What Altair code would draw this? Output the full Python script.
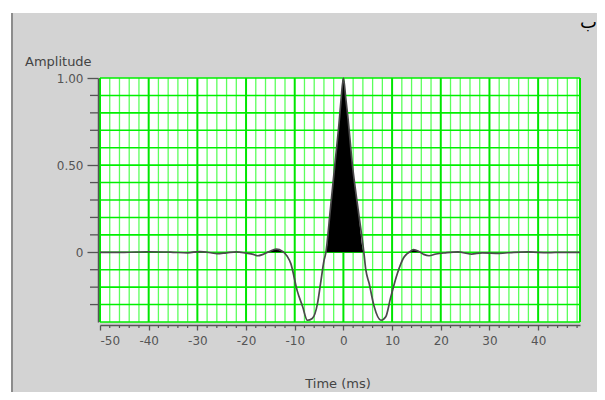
import altair as alt
import pandas as pd

# ---- data ----
time_ms = [-50, -45, -40, -35, -32, -29.5, -27, -26, -24, -22, -20, -18.5, -17.6, -16.5,
           -15.2, -13.8, -12.5, -11.5, -10.8, -9.5, -8.4, -7.4, -6.4, -5.3, -4.7, -4.0,
           -3.6, -2.7, -1.8, -0.9, -0.5, 0, 0.5, 0.9, 1.85, 3.0, 4.2, 4.6, 5.3, 6.3, 7.7,
           8.7, 9.7, 11.1, 12.4, 13.5, 14.4, 15.5, 16.5, 17.6, 19, 21, 23.5, 26.3, 28.5,
           32, 35, 38, 42, 45, 48.6]
amplitude = [0, 0, 0.003, 0, -0.003, 0.004, -0.004, -0.008, -0.003, 0.002, -0.005, -0.012,
             -0.02, -0.012, 0.005, 0.018, 0.005, -0.025, -0.065, -0.22, -0.31, -0.39, -0.38,
             -0.29, -0.18, -0.05, 0, 0.24, 0.49, 0.74, 0.87, 1.0, 0.88, 0.78, 0.5, 0.25, 0,
             -0.1, -0.18, -0.31, -0.39, -0.37, -0.26, -0.12, -0.03, 0, 0.015, 0.005, -0.012,
             -0.02, -0.01, -0.003, 0.002, -0.01, -0.003, -0.006, 0, 0.002, -0.002, 0, 0]

x_major_ticks = [-50, -40, -30, -20, -10, 0, 10, 20, 30, 40]
x_minor_ticks = [v for v in range(-48, 49, 2) if v % 10 != 0]
y_major_ticks = [0, 0.5, 1.0]
y_minor_ticks = [-0.3, -0.2, -0.1, 0.1, 0.2, 0.3, 0.4, 0.6, 0.7, 0.8, 0.9]
y_grid = [-0.4, -0.3, -0.2, -0.1, 0.0, 0.1, 0.2, 0.3, 0.4, 0.5, 0.6, 0.7, 0.8, 0.9, 1.0]
x_edge = [48.6]

x_title = "Time (ms)"
y_title = "Amplitude"
corner_mark = "ب"

W, H = 480, 244
X_DOMAIN = [-50, 48.6]
Y_DOMAIN = [-0.4, 1.0]
FONT = "DejaVu Sans"

xs = alt.Scale(domain=X_DOMAIN, nice=False, zero=False)
ys = alt.Scale(domain=Y_DOMAIN, nice=False, zero=False)

x_axis = alt.Axis(
    values=x_major_ticks, title=None, grid=False, offset=3, zindex=1,
    domainColor="#555555", domainWidth=1.5, tickColor="#555555",
    tickSize=5, tickWidth=1.3, labelFont=FONT, labelFontSize=12,
    labelColor="#555555", labelPadding=5,
    labelExpr="datum.value < 0 ? '-' + abs(datum.value) : '' + datum.value")
y_axis = alt.Axis(
    values=y_major_ticks, title=None, grid=False, offset=2, zindex=1,
    domainColor="#555555", domainWidth=1.5, tickColor="#555555",
    tickSize=11, tickWidth=1.3, labelFont=FONT, labelFontSize=12,
    labelColor="#555555", labelPadding=4,
    labelExpr="datum.value == 0 ? '0' : format(datum.value, '.2f')")

wave = pd.DataFrame({"t": time_ms, "a": amplitude})
one = pd.DataFrame({"k": [1]})

panel = alt.Chart(one).mark_rect(color="#d3d3d3").encode(
    x=alt.value(-88), x2=alt.value(W + 20), y=alt.value(-65), y2=alt.value(H + 80))
border = alt.Chart(one).mark_rule(color="#8c8c8c", strokeWidth=2).encode(
    x=alt.value(-88), y=alt.value(-65), y2=alt.value(H + 80))
plotbg = alt.Chart(one).mark_rect(color="white").encode(
    x=alt.value(0), x2=alt.value(W), y=alt.value(0), y2=alt.value(H))

vminor = alt.Chart(pd.DataFrame({"t": x_minor_ticks})).mark_rule(
    color="#5cff5c", strokeWidth=1.3).encode(x=alt.X("t:Q", scale=xs, axis=x_axis))
hgrid = alt.Chart(pd.DataFrame({"a": y_grid})).mark_rule(
    color="#00f000", strokeWidth=1.6).encode(y=alt.Y("a:Q", scale=ys, axis=y_axis))
vmajor = alt.Chart(pd.DataFrame({"t": x_major_ticks + x_edge})).mark_rule(
    color="#00e600", strokeWidth=2).encode(x=alt.X("t:Q", scale=xs, axis=x_axis))

area = alt.Chart(wave).transform_calculate(
    pos="max(datum.a, 0)", zero="0").mark_area(
    color="black", interpolate="monotone").encode(
    x=alt.X("t:Q", scale=xs, axis=x_axis),
    y=alt.Y("pos:Q", scale=ys, axis=y_axis),
    y2="zero:Q")

line = alt.Chart(wave).mark_line(
    color="#4a4a4a", strokeWidth=1.7, interpolate="monotone").encode(
    x=alt.X("t:Q", scale=xs, axis=x_axis),
    y=alt.Y("a:Q", scale=ys, axis=y_axis))

xminor = alt.Chart(pd.DataFrame({"t": x_minor_ticks})).mark_rule(
    color="#555555", strokeWidth=1.2).encode(
    x=alt.X("t:Q", scale=xs, axis=x_axis), y=alt.value(H + 3), y2=alt.value(H + 6))
yminor = alt.Chart(pd.DataFrame({"a": y_minor_ticks})).mark_rule(
    color="#555555", strokeWidth=1.3).encode(
    y=alt.Y("a:Q", scale=ys, axis=y_axis), x=alt.value(-10), x2=alt.value(-2))

ytitle = alt.Chart(one).mark_text(
    text=y_title, font=FONT, fontSize=13, color="#444444", align="left",
    baseline="middle").encode(x=alt.value(-75), y=alt.value(-16))
xtitle = alt.Chart(one).mark_text(
    text=x_title, font=FONT, fontSize=13, color="#444444", align="center",
    baseline="middle").encode(x=alt.value(238), y=alt.value(306))
corner = alt.Chart(one).mark_text(
    text=corner_mark, font=FONT, fontSize=18, color="black", align="right",
    baseline="middle").encode(x=alt.value(W + 17), y=alt.value(-55))

chart = alt.layer(
    panel, border, plotbg, vminor, hgrid, vmajor, area, line, xminor, yminor,
    ytitle, xtitle, corner
).properties(
    width=W, height=H,
    autosize=alt.AutoSizeParams(type="none"),
    padding={"left": 92, "top": 70, "right": 17, "bottom": 70},
    background="white",
).configure_view(stroke=None)

chart.save("out.html", embed_options={"renderer": "svg", "actions": False})
